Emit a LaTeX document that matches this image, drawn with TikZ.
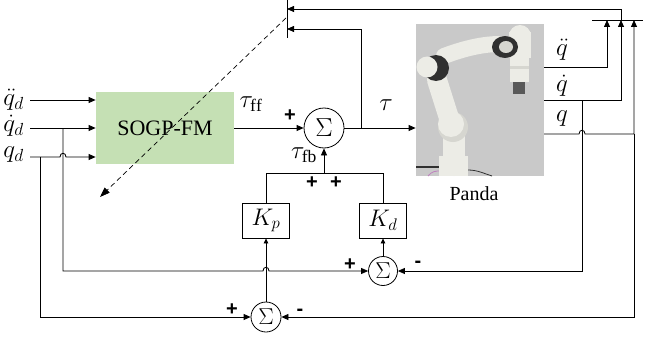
\documentclass[tikz,border=0pt]{standalone}
\usepackage{fix-cm}
\usepackage{fontspec}
\setmainfont{Liberation Serif}
\setsansfont{Liberation Sans}
\usetikzlibrary{arrows.meta,calc}
\definecolor{sogp}{RGB}{197,224,180}
\definecolor{pgray}{RGB}{201,201,201}
\definecolor{armw}{RGB}{236,236,230}
\definecolor{arms}{RGB}{214,214,208}
\definecolor{armd}{RGB}{48,48,48}
\begin{document}
\begin{tikzpicture}[x=1pt,y=-1pt, line width=0.8pt,
  arr/.style={-{Triangle[length=7pt,width=6pt]}},
  sarr/.style={-{Triangle[length=5pt,width=4.5pt]}},
  darr/.style={-{Triangle[length=10pt,width=7pt]}},
  sumnode/.style={circle,draw,inner sep=0pt,font=\fontsize{26}{30}\selectfont},
  gainbox/.style={draw,minimum width=47pt,minimum height=35pt,inner sep=0pt,font=\fontsize{24}{28}\selectfont},
  lbl/.style={font=\fontsize{20}{24}\selectfont,inner sep=0pt},
  mlbl/.style={font=\fontsize{25}{30}\selectfont,inner sep=0pt},
  sgn/.style={font=\sffamily\bfseries\fontsize{20}{22}\selectfont,inner sep=0pt},
  tube/.style={line cap=round,draw=armw}
]
\useasboundingbox (0,0) rectangle (645,337);
\fill[white] (0,0) rectangle (645,337);

% blocks
\node[fill=sogp, minimum width=138pt, minimum height=72pt, inner sep=0pt, font=\fontsize{22}{26}\selectfont] (fm) at (165,128) {SOGP-FM};
\node[sumnode, minimum size=40pt] (s1) at (324,128) {$\Sigma$};
\node[fill=pgray, minimum width=128pt, minimum height=152pt, inner sep=0pt] (pd) at (480,100) {};
\node[lbl] (pl) at (474,194) {Panda};
\node[gainbox] (kp) at (266,220.5) {$K_{p}$};
\node[gainbox] (kd) at (383,220.5) {$K_{d}$};
\node[sumnode, minimum size=29pt, font=\fontsize{23}{26}\selectfont] (s2) at (383,271) {$\Sigma$};
\node[sumnode, minimum size=30pt, font=\fontsize{23}{26}\selectfont] (s3) at (266,317) {$\Sigma$};

% robot picture
\begin{scope}
\draw[armd, line width=1.5pt] (416,167) -- (440,167);
\draw[violet!50, line width=0.8pt] (428,176) .. controls (432,171) and (436,171) .. (440,171);
\draw[armd, line width=0.8pt] (468,170) .. controls (478,170) and (485,174) .. (492,176);
\fill[armw] (439,156) rectangle (468,176);
\fill[armd] (450,170) -- (456,170) -- (453,164) -- cycle;
\draw[tube, line width=22pt] (454,165) -- (454,128);
\fill[arms] (453,127) circle (15);
\fill[armw] (451,124) circle (13);
\draw[tube, line width=20pt] (449,118) -- (437,80);
\draw[tube, line width=16pt] (444,56) .. controls (460,50) and (480,44) .. (500,44);
\fill[armd] (436,68) circle (13);
\fill[armw] (427,67) circle (10.5);
\fill[armw] (520,36) circle (11);
\fill[armw] (509,32) rectangle (531,58);
\fill[armd] (505,47) ellipse (13 and 11);
\fill[arms] (506,47) ellipse (7 and 6);
\fill[armw] (510,58) rectangle (529,82);
\fill[arms] (510,66) rectangle (529,69);
\fill[gray!70!black] (513,82) rectangle (525,94);
\end{scope}

% inputs
\node[mlbl, anchor=west] (l1) at (3,100) {$\ddot{q}_d$};
\node[mlbl, anchor=west] (l2) at (3,126) {$\dot{q}_d$};
\node[mlbl, anchor=west] (l3) at (3,155) {$q_d$};
\coordinate (a1) at (30,100);
\coordinate (a2) at (30,128);
\coordinate (a3) at (30,157);
\coordinate (b2) at (63,128);
\coordinate (b3) at (40,157);
\draw[arr] (a1) -- (fm.west |- a1);
\draw[arr] (a2) -- (fm.west |- a2);
\draw[arr] (a3) -- (60,157) .. controls (60,152) and (66,152) .. (66,157) -- (fm.west |- a3);
\draw[arr] (b2) -- (63,271) -- (263,271) .. controls (263,266) and (269,266) .. (269,271) -- (s2.west);
\draw[arr] (b3) -- (40,317) -- (s3.west);

% forward path
\draw[arr] (fm.east) -- (s1.west);
\draw[arr] (s1.east) -- (pd.west |- s1);
\coordinate (t1) at (361,128);
\coordinate (m1a) at (287,0);
\coordinate (m1b) at (287,38);
\draw (m1a) -- (m1b);
\coordinate (m1c) at (287,29);
\coordinate (m1d) at (287,9);
\draw[arr] (t1) -- (361,29) -- (m1c);
\coordinate (m2a) at (592,20);
\coordinate (m2b) at (643,20);
\draw (m2a) -- (m2b);
\coordinate (m2o) at (621,20);
\draw[arr] (m2o) -- (621,9) -- (m1d);

% outputs
\coordinate (o1) at (544,67);
\coordinate (o2) at (544,100);
\coordinate (o3) at (544,134);
\draw[arr] (o1) -- (607,67) -- (607,20);
\draw[arr] (o2) -- (621,100) -- (m2o);
\draw[arr] (o3) -- (579,134) .. controls (579,129) and (585,129) .. (585,134) -- (634,134) -- (634,20);
\draw[arr] (634,134) -- (634,317) -- (s3.east);
\draw[arr] (582,100) -- (582,271) -- (s2.east);

% feedback gains
\coordinate (j) at (324,173);
\draw[arr] (j) -- (s1.south);
\draw (kp.north) -- (266,173) -- (383,173) -- (kd.north);
\draw[sarr] (s3.north) -- (kp.south);
\draw[sarr] (s2.north) -- (kd.south);

% dashed
\coordinate (d1) at (286,18);
\coordinate (d2) at (100,197);
\draw[dashed, dash pattern=on 5pt off 3.5pt, line width=0.7pt, darr] (d1) -- (d2);

% labels
\node[mlbl] (tff) at (251,104) {$\tau_{\mathrm{ff}}$};
\node[mlbl] (tt) at (386,105) {$\tau$};
\node[mlbl] (tfb) at (304,155) {$\tau_{\mathrm{fb}}$};
\node[mlbl] (qdd) at (562,50) {$\ddot{q}$};
\node[mlbl] (qd) at (562,86) {$\dot{q}$};
\node[mlbl] (qq) at (562,119) {$q$};

% signs
\node[sgn] at (290,116) {+};
\node[sgn] at (312,183) {+};
\node[sgn] at (336,183) {+};
\node[sgn] at (350,265) {+};
\node[sgn] at (418,264) {-};
\node[sgn] at (232,310) {+};
\node[sgn] at (300,312) {-};
\end{tikzpicture}
\end{document}
